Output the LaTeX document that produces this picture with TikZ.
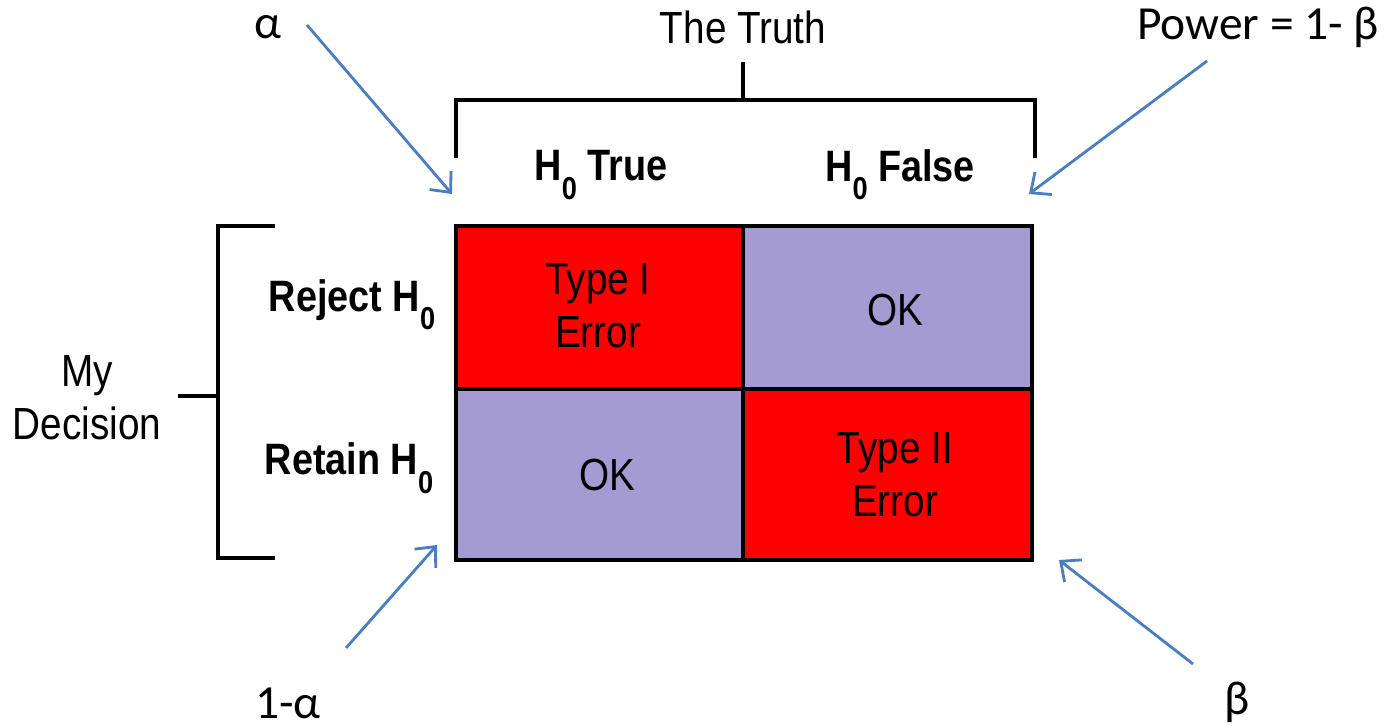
\documentclass[tikz,border=0pt]{standalone}
\usepackage{fontspec}
\setmainfont{Liberation Sans}
\newfontfamily\cond[FakeStretch=0.86]{Liberation Sans}
\newfontfamily\calib{Carlito}
\usetikzlibrary{arrows.meta}
\definecolor{cellred}{RGB}{255,0,0}
\definecolor{celllav}{RGB}{165,155,211}
\definecolor{arrowblue}{RGB}{74,126,193}
\newcommand{\Hz}{H\raisebox{-0.42em}{\fontsize{9}{9}\selectfont 0}}
\begin{document}
\begin{tikzpicture}[x=0.01cm,y=-0.01cm,
  cell/.style={draw=black, line width=1pt, inner sep=0pt, align=center,
    font=\cond\fontsize{12.5}{15}\selectfont},
  hdr/.style={font=\cond\bfseries\fontsize{12.5}{15}\selectfont, inner sep=0pt},
  lbl/.style={font=\cond\fontsize{12.8}{15}\selectfont, inner sep=0pt, align=center},
  txt/.style={font=\cond\fontsize{12.8}{15}\selectfont, inner sep=0pt, align=center},
  cal/.style={font=\calib\fontsize{13.5}{15}\selectfont, inner sep=0pt},
  brk/.style={line width=0.9pt, black},
  arr/.style={draw=arrowblue, line width=0.8pt, -{Straight Barb[length=4.5pt,width=8pt,line width=0.8pt]}}]
\useasboundingbox (0,0) rectangle (1398,728);
% grid cells
\node[cell, fill=cellred, minimum width=2.87cm, minimum height=1.63cm] (c11) at (599.5,307.5) {};
\node[cell, fill=celllav, minimum width=2.89cm, minimum height=1.63cm] (c12) at (887.5,307.5) {};
\node[cell, fill=celllav, minimum width=2.87cm, minimum height=1.71cm] (c21) at (599.5,474.5) {};
\node[cell, fill=cellred, minimum width=2.89cm, minimum height=1.71cm] (c22) at (887.5,474.5) {};
\node[txt] (t11) at (598,306) {Type I\\Error};
\node[txt] (t12) at (895,310) {OK};
\node[txt] (t21) at (607,475) {OK};
\node[txt] (t22) at (895,475) {Type II\\Error};
% headers
\node[hdr] (h1) at (601,175) {\Hz\ True};
\node[hdr] (h2) at (900,175) {\Hz\ False};
\node[hdr, anchor=east] (r1) at (436,305) {Reject \Hz};
\node[hdr, anchor=east] (r2) at (434,468) {Retain \Hz};
% top bracket
\node[lbl] (truth) at (743,27) {The Truth};
\coordinate (tl) at (456,158);
\coordinate (tr) at (1035,158);
\coordinate (tm) at (743,100);
\coordinate (tt) at (743,62);
\draw[brk] (tl) |- (tr |- tm) -- (tr);
\draw[brk] (tt) -- (tm);
% left bracket
\node[lbl] (dec) at (87,398) {My\\Decision};
\coordinate (lt) at (275,226);
\coordinate (lb) at (275,558);
\coordinate (lv) at (218,396);
\coordinate (lm) at (178,396);
\draw[brk] (lt) -- (lt -| lv) -- (lb -| lv) -- (lb);
\draw[brk] (lm) -- (lv);
% blue labels and arrows
\node[cal] (alpha) at (268,27) {α};
\node[cal] (power) at (1258,27) {Power = 1- β};
\node[cal] (onealpha) at (288,703) {1-α};
\node[cal] (beta) at (1237,702) {β};
\coordinate (a1s) at (307,25);
\coordinate (a1e) at (452,194);
\coordinate (a2s) at (1207,61);
\coordinate (a2e) at (1029,194);
\coordinate (a3s) at (346,648);
\coordinate (a3e) at (437,545);
\coordinate (a4s) at (1193,664);
\coordinate (a4e) at (1059,560);
\draw[arr] (a1s) -- (a1e);
\draw[arr] (a2s) -- (a2e);
\draw[arr] (a3s) -- (a3e);
\draw[arr] (a4s) -- (a4e);
\end{tikzpicture}
\end{document}
